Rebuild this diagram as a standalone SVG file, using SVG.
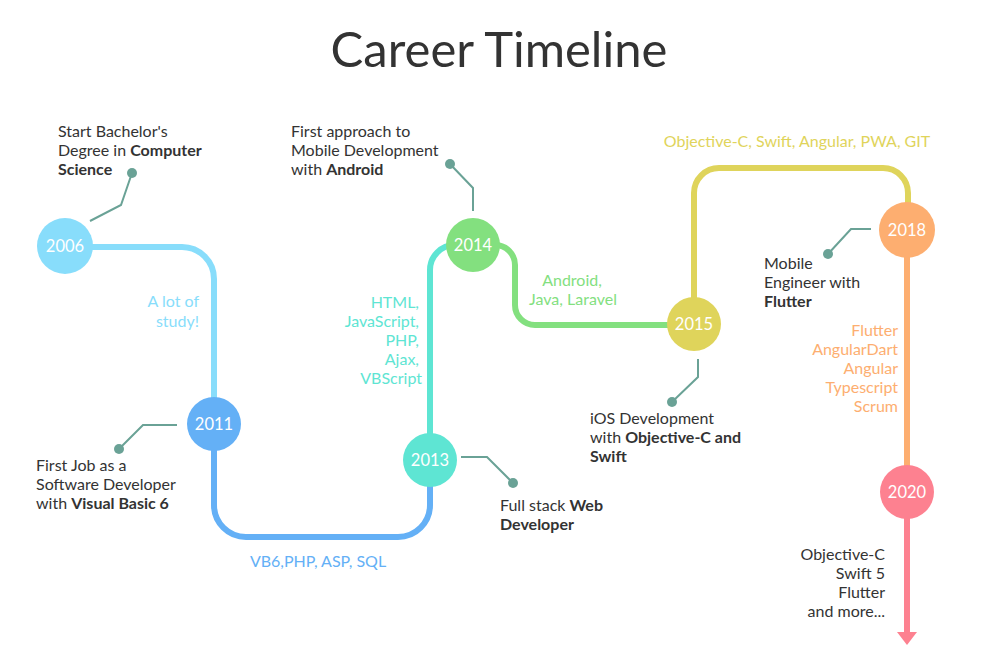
<svg xmlns="http://www.w3.org/2000/svg" width="1000" height="666" viewBox="0 0 1000 666">
<style>
text{font-family:Lato,"Open Sans","Liberation Sans",sans-serif;font-size:16px;fill:#333}
.t{font-size:49px;fill:#333}
.b{font-weight:bold}
.y{font-size:16.5px;fill:#fff;text-anchor:middle}
.ln{fill:none;stroke-width:6}
.co{fill:none;stroke:#6aa296;stroke-width:2}
.dot{fill:#6aa296}
.r{text-anchor:end}
.m{text-anchor:middle}
</style>
<rect width="1000" height="666" fill="#fff"/>
<text class="t" x="499" y="67" text-anchor="middle">Career Timeline</text>
<g id="connectors">
<path class="ln" stroke="#88ddfb" d="M92 247 H182 A32 32 0 0 1 214 279 V400"/>
<path class="ln" stroke="#64b0f6" d="M214 448 V505 A32 32 0 0 0 246 537 H398 A32 32 0 0 0 430 505 V485"/>
<path class="ln" stroke="#5ee5d3" d="M430 436 V270 A25 25 0 0 1 455 245 H465"/>
<path class="ln" stroke="#83e07f" d="M490 245 H495 A20 20 0 0 1 515 265 V305 A20 20 0 0 0 535 325 H680"/>
<path class="ln" stroke="#dfd45b" d="M694 310 V193 A25 25 0 0 1 719 168 H883 A25 25 0 0 1 908 193 V215"/>
<path class="ln" stroke="#fdae70" d="M907 245 V480"/>
<path class="ln" stroke="#fd8190" d="M907 505 V634"/>
<polygon points="897,632 917,632 907,645" fill="#fd8190"/>
<path class="co" d="M132 173 L121 205 L90 221"/>
<path class="co" d="M119 449 L143 425 H177"/>
<path class="co" d="M461 457 H487 L513 483"/>
<path class="co" d="M450 164 L473 188 V211"/>
<path class="co" d="M698 359 V377 L672 402"/>
<path class="co" d="M871 229 H851 L828 254"/>
</g>
<g id="n2006">
<circle cx="65" cy="246" r="28" fill="#88ddfb"/>
<text class="y" x="65" y="252">2006</text>
<circle class="dot" cx="132" cy="173" r="5"/>
<text x="58" y="137">Start Bachelor's</text>
<text x="58" y="156">Degree in <tspan class="b">Computer</tspan></text>
<text x="58" y="175" class="b">Science</text>
<text x="199" y="307" class="r" style="fill:#88ddfb">A lot of</text>
<text x="199" y="327" class="r" style="fill:#88ddfb">study!</text>
</g>
<g id="n2011">
<circle cx="214" cy="424" r="27" fill="#64b0f6"/>
<text class="y" x="214" y="430">2011</text>
<circle class="dot" cx="119" cy="449" r="5"/>
<text x="36" y="471">First Job as a</text>
<text x="36" y="490">Software Developer</text>
<text x="36" y="509">with <tspan class="b">Visual Basic 6</tspan></text>
<text x="318" y="567" class="m" style="fill:#64b0f6">VB6,PHP, ASP, SQL</text>
</g>
<g id="n2013">
<circle cx="430" cy="460" r="27" fill="#5ee5d3"/>
<text class="y" x="430" y="466">2013</text>
<circle class="dot" cx="513" cy="483" r="5"/>
<text x="500" y="511">Full stack <tspan class="b">Web</tspan></text>
<text x="500" y="530" class="b">Developer</text>
<text x="419" y="308" class="r" style="fill:#5ee5d3">HTML,</text>
<text x="419" y="327" class="r" style="fill:#5ee5d3">JavaScript,</text>
<text x="419" y="346" class="r" style="fill:#5ee5d3">PHP,</text>
<text x="419" y="365" class="r" style="fill:#5ee5d3">Ajax,</text>
<text x="422" y="384" class="r" style="fill:#5ee5d3">VBScript</text>
</g>
<g id="n2014">
<circle cx="473" cy="245" r="27" fill="#83e07f"/>
<text class="y" x="473" y="251">2014</text>
<circle class="dot" cx="450" cy="164" r="5"/>
<text x="291" y="137">First approach to</text>
<text x="291" y="156">Mobile Development</text>
<text x="291" y="175">with <tspan class="b">Android</tspan></text>
<text x="572" y="286" class="m" style="fill:#83e07f">Android,</text>
<text x="573" y="305" class="m" style="fill:#83e07f">Java, Laravel</text>
</g>
<g id="n2015">
<circle cx="694" cy="324" r="27" fill="#dfd45b"/>
<text class="y" x="694" y="330">2015</text>
<circle class="dot" cx="672" cy="402" r="5"/>
<text x="590" y="424">iOS Development</text>
<text x="590" y="443">with <tspan class="b">Objective-C and</tspan></text>
<text x="590" y="462" class="b">Swift</text>
<text x="797" y="147" class="m" style="fill:#dfd45b">Objective-C, Swift, Angular, PWA, GIT</text>
</g>
<g id="n2018">
<circle cx="907" cy="230" r="28" fill="#fdae70"/>
<text class="y" x="907" y="236">2018</text>
<circle class="dot" cx="828" cy="254" r="5"/>
<text x="764" y="269">Mobile</text>
<text x="764" y="288">Engineer with</text>
<text x="764" y="307" class="b">Flutter</text>
<text x="898" y="336" class="r" style="fill:#fdae70">Flutter</text>
<text x="898" y="355" class="r" style="fill:#fdae70">AngularDart</text>
<text x="898" y="374" class="r" style="fill:#fdae70">Angular</text>
<text x="898" y="393" class="r" style="fill:#fdae70">Typescript</text>
<text x="898" y="412" class="r" style="fill:#fdae70">Scrum</text>
</g>
<g id="n2020">
<circle cx="907" cy="492" r="27" fill="#fd8190"/>
<text class="y" x="907" y="498">2020</text>
<text x="885" y="560" class="r">Objective-C</text>
<text x="885" y="579" class="r">Swift 5</text>
<text x="885" y="598" class="r">Flutter</text>
<text x="885" y="617" class="r">and more...</text>
</g>
</svg>
